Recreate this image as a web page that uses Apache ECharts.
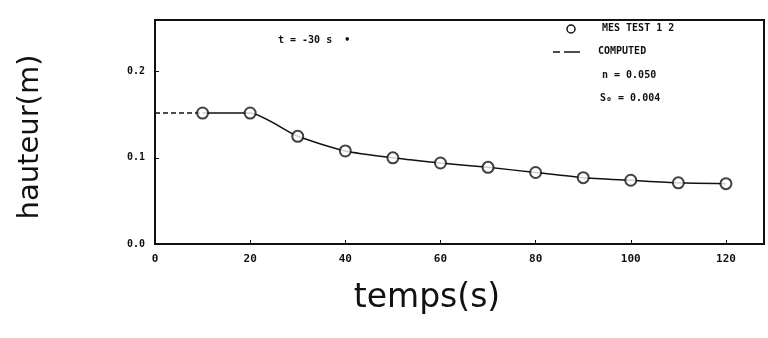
<!DOCTYPE html>
<html>
<head>
<meta charset="utf-8">
<script src="https://cdn.jsdelivr.net/npm/echarts@6/dist/echarts.min.js"></script>
<style>
  html, body { margin: 0; padding: 0; background: #fff; }
  #chart { width: 768px; height: 338px; }
</style>
</head>
<body>
<div id="chart"></div>
<script>
// measured points (circles)
const measTime = [10, 20, 30, 40, 50, 60, 70, 80, 90, 100, 110, 120]
const measHeight = [0.152, 0.152, 0.125, 0.108, 0.100, 0.094, 0.089, 0.083, 0.077, 0.074, 0.071, 0.070]
// computed curve
const compTime = [0, 10, 20, 30, 40, 50, 60, 70, 80, 90, 100, 110, 120]
const compHeight = [0.152, 0.152, 0.152, 0.125, 0.108, 0.100, 0.094, 0.089, 0.083, 0.077, 0.074, 0.071, 0.070]
const xTicks = [0, 20, 40, 60, 80, 100, 120]
const yTicks = [0, 0.1, 0.2]

const ink = '#111'
const chart = echarts.init(document.getElementById('chart'))

const pairs = (xs, ys) => xs.map((x, i) => [x, ys[i]])

chart.setOption({
  animation: false,
  grid: {
    left: 155, right: 4, top: 20, bottom: 94,
    show: true, borderColor: ink, borderWidth: 2,
  },
  xAxis: {
    type: 'value', min: 0, max: 128, interval: 20,
    axisLine: { lineStyle: { color: ink, width: 2 } },
    axisTick: { inside: true, length: 4, lineStyle: { color: ink } },
    splitLine: { show: false },
    axisLabel: {
      color: ink, fontFamily: 'DejaVu Sans Mono', fontWeight: 'bold', fontSize: 11, margin: 10,
      formatter: v => xTicks.includes(v) ? String(v) : '',
    },
  },
  yAxis: {
    type: 'value', min: 0, max: 0.26, interval: 0.1,
    axisLine: { lineStyle: { color: ink, width: 2 } },
    axisTick: { inside: true, length: 4, lineStyle: { color: ink } },
    splitLine: { show: false },
    axisLabel: {
      color: ink, fontFamily: 'DejaVu Sans Mono', fontWeight: 'bold', fontSize: 10, margin: 10,
      formatter: v => yTicks.some(t => Math.abs(t - v) < 1e-9) ? v.toFixed(1) : '',
    },
  },
  series: [
    {
      name: 'COMPUTED start', type: 'line', symbol: 'none',
      lineStyle: { color: ink, width: 1.5, type: [5, 3] },
      data: pairs(compTime.slice(0, 2), compHeight.slice(0, 2)),
    },
    {
      name: 'COMPUTED', type: 'line', symbol: 'none', smooth: 0.2,
      lineStyle: { color: ink, width: 1.5 },
      data: pairs(compTime.slice(1), compHeight.slice(1)),
    },
    {
      name: 'MES TEST 1 2', type: 'scatter', symbol: 'circle', symbolSize: 11,
      itemStyle: { color: '#fff', borderColor: ink, borderWidth: 2 },
      data: pairs(measTime, measHeight),
      z: 5,
    },
  ],
  graphic: [
    { type: 'text', x: 30, y: 137, rotation: Math.PI / 2,
      style: { text: 'hauteur(m)', fill: ink, font: '29px "DejaVu Sans"', align: 'center', verticalAlign: 'middle' } },
    { type: 'text', x: 427, y: 298,
      style: { text: 'temps(s)', fill: ink, font: '33px "DejaVu Sans"', align: 'center', verticalAlign: 'middle' } },
    { type: 'text', left: 278, top: 35,
      style: { text: 't = -30 s  •', fill: ink, font: 'bold 10px "DejaVu Sans Mono"' } },
    { type: 'circle', shape: { cx: 571, cy: 29, r: 4 }, style: { fill: '#fff', stroke: ink, lineWidth: 1.5 } },
    { type: 'text', left: 602, top: 23,
      style: { text: 'MES TEST 1 2', fill: ink, font: 'bold 10px "DejaVu Sans Mono"' } },
    { type: 'line', shape: { x1: 553, y1: 52, x2: 560, y2: 52 }, style: { stroke: ink, lineWidth: 1.5 } },
    { type: 'line', shape: { x1: 564, y1: 52, x2: 580, y2: 52 }, style: { stroke: ink, lineWidth: 1.5 } },
    { type: 'text', left: 598, top: 46,
      style: { text: 'COMPUTED', fill: ink, font: 'bold 10px "DejaVu Sans Mono"' } },
    { type: 'text', left: 602, top: 70,
      style: { text: 'n = 0.050', fill: ink, font: 'bold 10px "DejaVu Sans Mono"' } },
    { type: 'text', left: 600, top: 93,
      style: { text: 'S\u2080 = 0.004', fill: ink, font: 'bold 10px "DejaVu Sans Mono"' } },
  ],
})
</script>
</body>
</html>
